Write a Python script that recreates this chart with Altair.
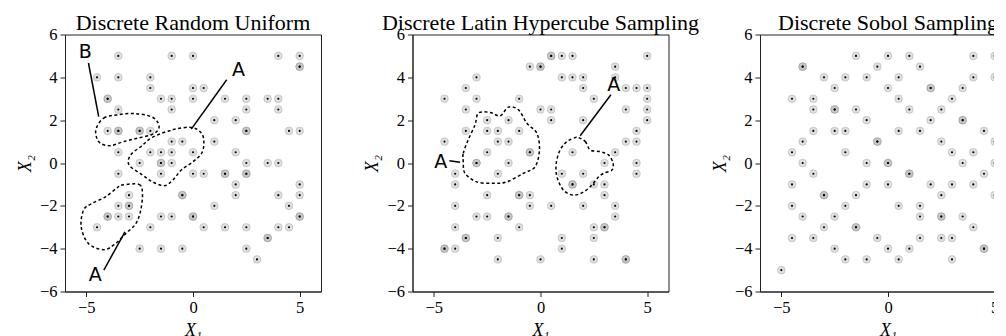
import altair as alt
import pandas as pd

TITLES = ["Discrete Random Uniform", "Discrete Latin Hypercube Sampling", "Discrete Sobol Sampling"]

# Samples, grouped by X2 row -> list of X1 values (a repeated value = two overlapping samples)
UNIFORM_ROWS = {
    5.0: [-3.5, -1, 0, 4, 5],
    4.5: [5, 5],
    4.0: [-4.5, -3.5, -2],
    3.5: [-2, 0, 0.5],
    3.0: [-4, -4, -1.5, -1, 0, 1.5, 2.5, 3.5, 4],
    2.5: [-3.5, -1, 2.5, 4],
    2.0: [1, 2],
    1.5: [-4, -3.5, -3.5, -2.5, -2.5, -2, 2.5, 2.5, 4.5, 5],
    1.0: [-1, -0.5, 1],
    0.5: [-3.5, -2, -1.5, -1, 0, 2],
    0.0: [-2.5, -1.5, -1.5, -1, 2.5, 3.5, 4],
    -0.5: [-3.5, -1.5, 0, 0.5, 1.5, 1.5, 2.5, 2.5],
    -1.0: [2, 5],
    -1.5: [-3, -0.5, -0.5, 2, 4, 5],
    -2.0: [-3.5, -3, -3, 1, 4.5],
    -2.5: [-4, -4, -3.5, -3, -1.5, -1, 0, 0, 5, 5],
    -3.0: [-4.5, -2, 0.5, 1.5, 2.5, 4, 4.5],
    -3.5: [3.5, 3.5],
    -4.0: [-2.5, -1.5, -0.5, 2.5],
    -4.5: [3],
}

LHS_ROWS = {
    5.0: [0.5, 0.5, 1, 1.5, 5],
    4.5: [-0.5, 0, 0, 3.5],
    4.0: [-3, 1, 1.5, 2, 3.5],
    3.5: [-3.5, 2, 4, 4.5, 5],
    3.0: [-4.5, -3, -1, 2.5, 5],
    2.5: [-3.5, 0, 0.5, 4, 5],
    2.0: [-2.5, -1.5, 0.5, 2, 5],
    1.5: [-3.5, -2.5, -2, -1, 4.5],
    1.0: [-4.5, -2, -1.5, 4, 4.5],
    0.5: [-2.5, -0.5, -0.5, 1.5, 3.5],
    0.0: [-3, -3, -1.5, 3, 4.5],
    -0.5: [-4, -2, 1, 2, 4.5],
    -1.0: [-4, 1.5, 1.5, 2.5, 3],
    -1.5: [-2.5, -1, -1, -0.5, 3],
    -2.0: [-4, -0.5, 0.5, 2, 3.5],
    -2.5: [-3, -2.5, -1.5, -1.5, 3.5],
    -3.0: [-4, -1, 2.5, 3, 3],
    -3.5: [-3.5, -3.5, -2, 1, 2.5],
    -4.0: [-4.5, -4.5, -4, 1],
    -4.5: [-2, 0, 2.5, 4, 4],
}

SOBOL_ROWS = {
    5.0: [-1.5, 0, 1, 4, 5],
    4.5: [-4, -4, -0.5, 1.5],
    4.0: [-3, -2, -1, 0.5, 4, 5],
    3.5: [-2.5, 0, 2, 2, 3.5],
    3.0: [-4.5, -3.5, 0.5, 3],
    2.5: [-3.5, -2.5, -2.5, -1.5, 1, 2.5],
    2.0: [-1, 2, 3.5, 3.5],
    1.5: [-3.5, -2.5, -2, 0.5, 1.5, 4.5],
    1.0: [-4, -0.5, -0.5, 2.5, 5],
    0.5: [-4.5, -2, 3, 4],
    0.0: [-4, -1, 0, 0, 3.5, 5],
    -0.5: [-3.5, 1, 1, 4.5],
    -1.0: [-4.5, -1, 0, 2, 3, 4],
    -1.5: [-3, -3, -1.5, 2.5, 5],
    -2.0: [-4.5, -2, 0.5, 1.5],
    -2.5: [-4, -2.5, 1.5, 2.5, 2.5, 3.5],
    -3.0: [-3, -1.5, -1.5, 4],
    -3.5: [-4.5, -3.5, -0.5, 1.5, 2.5, 3],
    -4.0: [-2.5, 0, 1, 4.5, 4.5],
    -4.5: [-2, -1, 0.5, 3],
    -5.0: [-5],
}

# Hand-drawn cluster outlines (data coordinates)
UNI_B_OUTLINE = [(-4.53, 1.63), (-4.18, 2.10), (-3.55, 2.25), (-2.76, 2.31), (-1.97, 2.17),
                 (-1.63, 1.86), (-1.63, 1.55), (-1.97, 1.31), (-2.61, 1.16), (-3.24, 1.00),
                 (-3.87, 0.81), (-4.34, 0.92), (-4.53, 1.23)]
UNI_A1_OUTLINE = [(-1.90, 1.20), (-0.95, 1.55), (-0.08, 1.66), (0.40, 1.39), (0.51, 0.92),
                  (0.40, 0.45), (0.0, 0.06), (-0.55, -0.33), (-0.95, -0.80), (-1.34, -1.06),
                  (-1.90, -0.88), (-2.37, -0.56), (-3.0, -0.09), (-2.92, 0.38), (-2.45, 0.76)]
UNI_A2_OUTLINE = [(-3.32, -1.03), (-2.53, -1.0), (-2.37, -1.42), (-2.45, -2.20), (-2.68, -2.83),
                  (-3.16, -3.30), (-3.63, -3.76), (-4.18, -4.05), (-4.90, -3.76), (-5.24, -2.99),
                  (-5.13, -2.20), (-4.74, -1.89), (-4.10, -1.58), (-3.55, -1.15)]
LHS_A1_OUTLINE = [(-3.62, 0.06), (-3.62, 0.45), (-3.39, 1.08), (-3.07, 1.78), (-2.91, 2.33),
                  (-2.36, 2.36), (-1.89, 2.20), (-1.50, 2.61), (-1.03, 2.48), (-0.64, 1.86),
                  (-0.17, 1.39), (-0.05, 0.61), (-0.25, -0.17), (-0.80, -0.48), (-1.58, -0.88),
                  (-2.21, -0.95), (-2.99, -0.88), (-3.54, -0.48)]
LHS_A2_OUTLINE = [(1.78, 1.19), (2.10, 1.00), (2.33, 0.61), (2.80, 0.53), (3.19, 0.38),
                  (3.40, -0.01), (3.35, -0.33), (2.96, -0.48), (2.65, -0.72), (2.41, -1.03),
                  (2.02, -1.35), (1.55, -1.50), (1.08, -1.27), (0.77, -0.64), (0.74, -0.01),
                  (0.92, 0.61), (1.24, 1.00), (1.63, 1.19)]

# Annotation labels: (text, x, y) and leader lines: (x, y, x2, y2)
UNI_LABELS = [("B", -5.05, 5.2), ("A", 2.13, 4.36), ("A", -4.58, -5.25)]
UNI_LEADERS = [(-4.9, 4.67, -4.42, 2.17), (-0.08, 1.58, 1.58, 3.89), (-3.19, -3.22, -4.18, -5.0)]
LHS_LABELS = [("A", -4.68, 0.03), ("A", 3.43, 3.66)]
LHS_LEADERS = [(-4.27, 0.11, -3.77, 0.03), (1.86, 1.27, 3.3, 3.19)]

SERIF = "Liberation Serif"
W, H = 256, 257


def points_df(rows):
    recs = []
    for y, xs in rows.items():
        for x in xs:
            recs.append({"x": x, "y": y})
    return pd.DataFrame(recs)


def outline_df(outlines):
    recs = []
    for k, pts in enumerate(outlines):
        for i, (x, y) in enumerate(pts):
            recs.append({"x": x, "y": y, "id": k, "o": i})
    return pd.DataFrame(recs)


def panel(title, rows, outlines, labels, leaders):
    xs = alt.Scale(domain=[-6, 6], nice=False, zero=False)
    ys = alt.Scale(domain=[-6, 6], nice=False, zero=False)
    xax = alt.Axis(values=[-5, 0, 5], title="X₁", labelFlush=False,
                   labelExpr="replace(datum.label, '-', '−')")
    yax = alt.Axis(values=[-6, -4, -2, 0, 2, 4, 6], title="X₂", labelFlush=False,
                   labelExpr="replace(datum.label, '-', '−')")
    pdf = points_df(rows)
    base = alt.Chart(pdf)
    circles = base.mark_circle(size=60, color="#8a8a8a", fillOpacity=0.27,
                               stroke="#8a8a8a", strokeWidth=1, strokeOpacity=0.32).encode(
        x=alt.X("x:Q", scale=xs, axis=xax), y=alt.Y("y:Q", scale=ys, axis=yax))
    dots = base.mark_circle(size=4.5, color="black", opacity=1).encode(
        x=alt.X("x:Q", scale=xs), y=alt.Y("y:Q", scale=ys))
    tdf0 = pd.DataFrame([{"t": title, "x": 0.0, "y": 6.0}])
    head = alt.Chart(tdf0).mark_text(
        font=SERIF, fontSize=22, color="black", baseline="alphabetic", align="center", dy=-5
    ).encode(x=alt.X("x:Q", scale=xs), y=alt.Y("y:Q", scale=ys), text="t:N")
    layers = [circles, dots, head]
    if outlines:
        odf = outline_df(outlines)
        layers.append(alt.Chart(odf).mark_line(
            color="black", strokeDash=[3, 2.5], strokeWidth=1.5, interpolate="cardinal-closed"
        ).encode(x=alt.X("x:Q", scale=xs), y=alt.Y("y:Q", scale=ys),
                 detail="id:N", order="o:Q"))
    if leaders:
        ldf = pd.DataFrame(leaders, columns=["x", "y", "x2", "y2"])
        layers.append(alt.Chart(ldf).mark_rule(color="black", strokeWidth=1.5).encode(
            x=alt.X("x:Q", scale=xs), y=alt.Y("y:Q", scale=ys), x2="x2:Q", y2="y2:Q"))
    if labels:
        tdf = pd.DataFrame(labels, columns=["t", "x", "y"])
        layers.append(alt.Chart(tdf).mark_text(
            font="DejaVu Sans", fontSize=19, color="black", baseline="middle", align="center"
        ).encode(x=alt.X("x:Q", scale=xs), y=alt.Y("y:Q", scale=ys), text="t:N"))
    return alt.layer(*layers).properties(width=W, height=H)


p1 = panel(TITLES[0], UNIFORM_ROWS, [UNI_B_OUTLINE, UNI_A1_OUTLINE, UNI_A2_OUTLINE],
           UNI_LABELS, UNI_LEADERS)
p2 = panel(TITLES[1], LHS_ROWS, [LHS_A1_OUTLINE, LHS_A2_OUTLINE], LHS_LABELS, LHS_LEADERS)
p3 = panel(TITLES[2], SOBOL_ROWS, [], [], [])

chart = alt.hconcat(p1, p2, p3, spacing=91.5, bounds="flush").properties(
    padding={"left": 7, "top": 2.5, "right": -23, "bottom": 0}
).configure_view(stroke="#222", strokeWidth=1).configure_axis(
    labelFont=SERIF, labelFontSize=16.5, labelColor="black",
    titleFont=SERIF, titleFontSize=18, titleFontStyle="italic", titleFontWeight="normal",
    titleColor="black", tickColor="#222", domainColor="#222", grid=False,
    tickSize=5, labelPadding=3, titlePadding=5
)

chart.save("out.html", embed_options={"renderer": "svg", "actions": False})
